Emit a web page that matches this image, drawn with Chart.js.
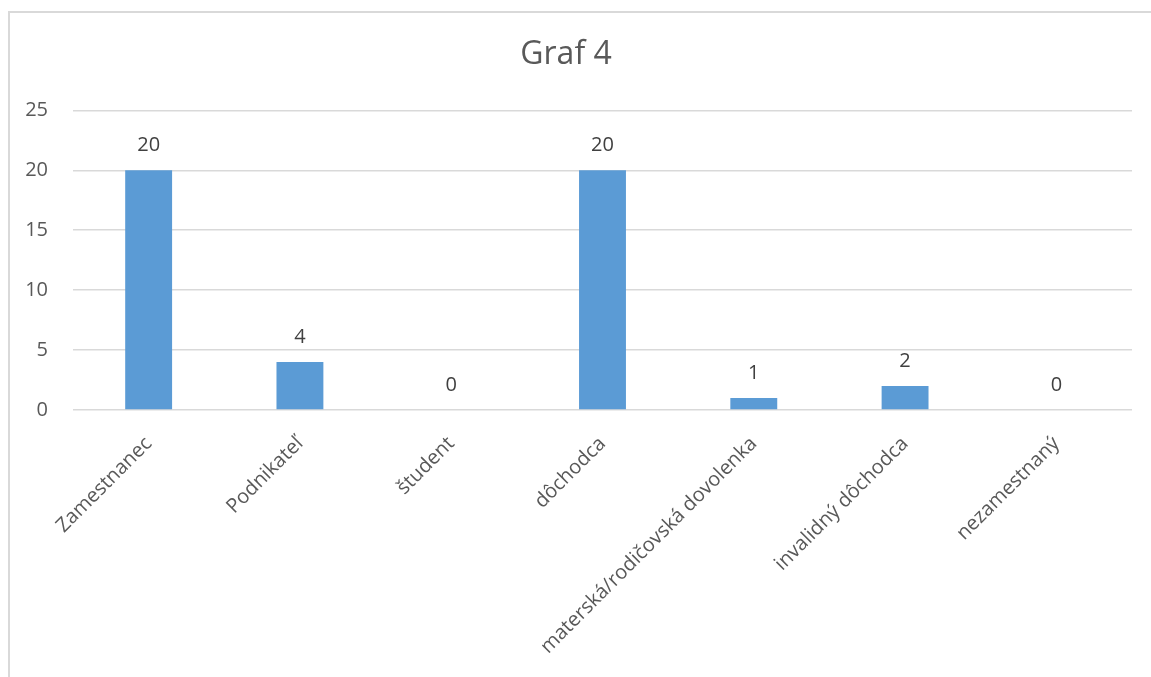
<!DOCTYPE html>
<html>
<head>
<meta charset="utf-8">
<script src="https://cdn.jsdelivr.net/npm/chart.js@4/dist/chart.umd.min.js"></script>
<style>
  html, body { margin: 0; padding: 0; background: #fff; overflow: hidden; }
  #frame { position: absolute; left: 8px; top: 11px; width: 1200px; height: 720px;
           border-top: 2px solid #d9d9d9; border-left: 2px solid #d9d9d9; pointer-events: none; }
  #wrap { position: absolute; left: 0; top: 0; width: 1151px; height: 677px; }
</style>
</head>
<body>
<div id="wrap"><canvas id="chart"></canvas></div>
<div id="frame"></div>
<script>
const categories = ['Zamestnanec', 'Podnikateľ', 'študent', 'dôchodca',
  'materská/rodičovská dovolenka', 'invalidný dôchodca', 'nezamestnaný'];
const counts = [20, 4, 0, 20, 1, 2, 0];
const yTicks = [0, 5, 10, 15, 20, 25];

const FONT = "'Open Sans', 'Segoe UI', sans-serif";

// draws the value above each bar
const barLabels = {
  id: 'barLabels',
  afterDatasetsDraw(chart) {
    const ctx = chart.ctx;
    const meta = chart.getDatasetMeta(0);
    ctx.save();
    ctx.font = '20px ' + FONT;
    ctx.fillStyle = '#404040';
    ctx.textAlign = 'center';
    ctx.textBaseline = 'middle';
    meta.data.forEach((bar, i) => {
      ctx.fillText(String(counts[i]), bar.x, bar.y - 25);
    });
    ctx.restore();
  }
};

new Chart(document.getElementById('chart'), {
  type: 'bar',
  data: {
    labels: categories,
    datasets: [{
      data: counts,
      backgroundColor: '#5b9bd5',
      categoryPercentage: 1,
      barPercentage: 0.31
    }]
  },
  options: {
    responsive: true,
    maintainAspectRatio: false,
    animation: false,
    layout: { padding: { left: 0, right: 19, top: 0, bottom: 0 } },
    plugins: {
      legend: { display: false },
      tooltip: { enabled: false },
      title: {
        display: true,
        text: 'Graf 4',
        color: '#595959',
        font: { family: FONT, size: 32, weight: 'normal' },
        padding: { top: 36, bottom: 36 }
      }
    },
    scales: {
      x: {
        grid: { display: false, drawTicks: false },
        border: { display: false },
        ticks: {
          color: '#595959',
          font: { family: FONT, size: 20 },
          minRotation: 45,
          maxRotation: 45,
          padding: 22
        },
        afterFit(scale) { scale.height = 267; }
      },
      y: {
        min: 0,
        max: 25,
        afterBuildTicks(scale) { scale.ticks = yTicks.map(v => ({ value: v })); },
        grid: { color: '#d9d9d9', lineWidth: 1.5, drawTicks: false },
        border: { display: false },
        ticks: {
          color: '#595959',
          font: { family: FONT, size: 20 },
          padding: 25
        },
        afterFit(scale) { scale.width = 73; }
      }
    }
  },
  plugins: [barLabels]
});
</script>
</body>
</html>
